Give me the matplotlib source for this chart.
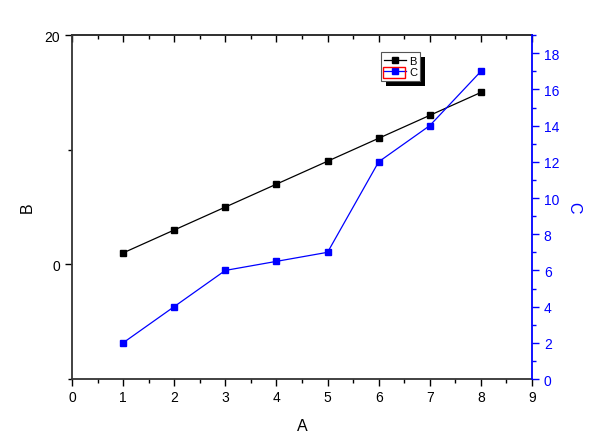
import matplotlib.pyplot as plt
from matplotlib.ticker import MultipleLocator
from matplotlib.patches import Rectangle

plt.rcParams['font.family'] = ['Liberation Sans', 'DejaVu Sans']

a_vals = [1, 2, 3, 4, 5, 6, 7, 8]
b_vals = [1, 3, 5, 7, 9, 11, 13, 15]
c_vals = [2, 4, 6, 6.5, 7, 12, 14, 17]

fig = plt.figure(figsize=(6, 4.35), dpi=100)
ax = fig.add_axes([0.12, 0.1264, 0.7667, 0.7906])
ax2 = ax.twinx()

l1, = ax.plot(a_vals, b_vals, color='black', lw=0.9, marker='s', ms=5, label='B')
l2, = ax2.plot(a_vals, c_vals, color='blue', lw=0.9, marker='s', ms=5, label='C')

ax.set_xlim(0, 9)
ax.set_ylim(-10, 20)
ax2.set_ylim(0, 19)

ax.xaxis.set_major_locator(MultipleLocator(1))
ax.xaxis.set_minor_locator(MultipleLocator(0.5))
ax.yaxis.set_major_locator(MultipleLocator(20))
ax.yaxis.set_minor_locator(MultipleLocator(10))
ax2.yaxis.set_major_locator(MultipleLocator(2))
ax2.yaxis.set_minor_locator(MultipleLocator(1))

for s in ['left', 'bottom', 'top']:
    ax.spines[s].set_color('#333333')
    ax.spines[s].set_linewidth(1.3)
    ax2.spines[s].set_visible(False)
ax.spines['right'].set_visible(False)
ax2.spines['right'].set_color('blue')
ax2.spines['right'].set_linewidth(1.3)

# top axis: inward ticks, no labels
top = ax.secondary_xaxis('top')
top.xaxis.set_major_locator(MultipleLocator(1))
top.xaxis.set_minor_locator(MultipleLocator(0.5))
top.tick_params(which='major', direction='in', length=5, width=1, labeltop=False)
top.tick_params(which='minor', direction='in', length=3, width=1)
top.spines['top'].set_color('#333333')
top.spines['top'].set_linewidth(1.3)

ax.tick_params(axis='x', which='major', direction='out', length=5, width=1, labelsize=10, pad=3)
ax.tick_params(axis='x', which='minor', direction='out', length=3, width=1)
ax.tick_params(axis='y', which='major', direction='out', length=5, width=1, labelsize=10)
ax.tick_params(axis='y', which='minor', direction='out', length=3, width=1)
ax2.tick_params(axis='y', which='major', direction='out', length=5, width=1,
                colors='blue', labelsize=10)
ax2.tick_params(axis='y', which='minor', direction='out', length=3, width=1, colors='blue')

ax.set_xlabel('A', fontsize=11.5, labelpad=10)
ax.set_ylabel('B', fontsize=11.5, labelpad=7)
ax2.set_ylabel('C', fontsize=11.5, color='blue', rotation=270, labelpad=16)

leg = ax2.legend(handles=[l1, l2], loc='upper left', bbox_to_anchor=(0.672, 0.95),
                 fontsize=8, frameon=True, framealpha=1, fancybox=False,
                 handlelength=1.9, handletextpad=0.3,
                 borderpad=0.3, labelspacing=0.15, borderaxespad=0)
leg.get_frame().set_edgecolor('#555555')
leg.get_frame().set_linewidth(0.8)

# legend drop shadow, offset a few pixels down-right
fig.canvas.draw()
bb = leg.get_window_extent()
ax2.add_patch(Rectangle((bb.x0 + 5, bb.y0 - 5), bb.width, bb.height, transform=None,
                        facecolor='black', edgecolor='none', zorder=4.9))

fig.patches.append(Rectangle((0.638, 0.818), 0.037, 0.026, transform=fig.transFigure,
                             fill=False, edgecolor='red', lw=1))

fig.savefig('out.png', dpi=100)
